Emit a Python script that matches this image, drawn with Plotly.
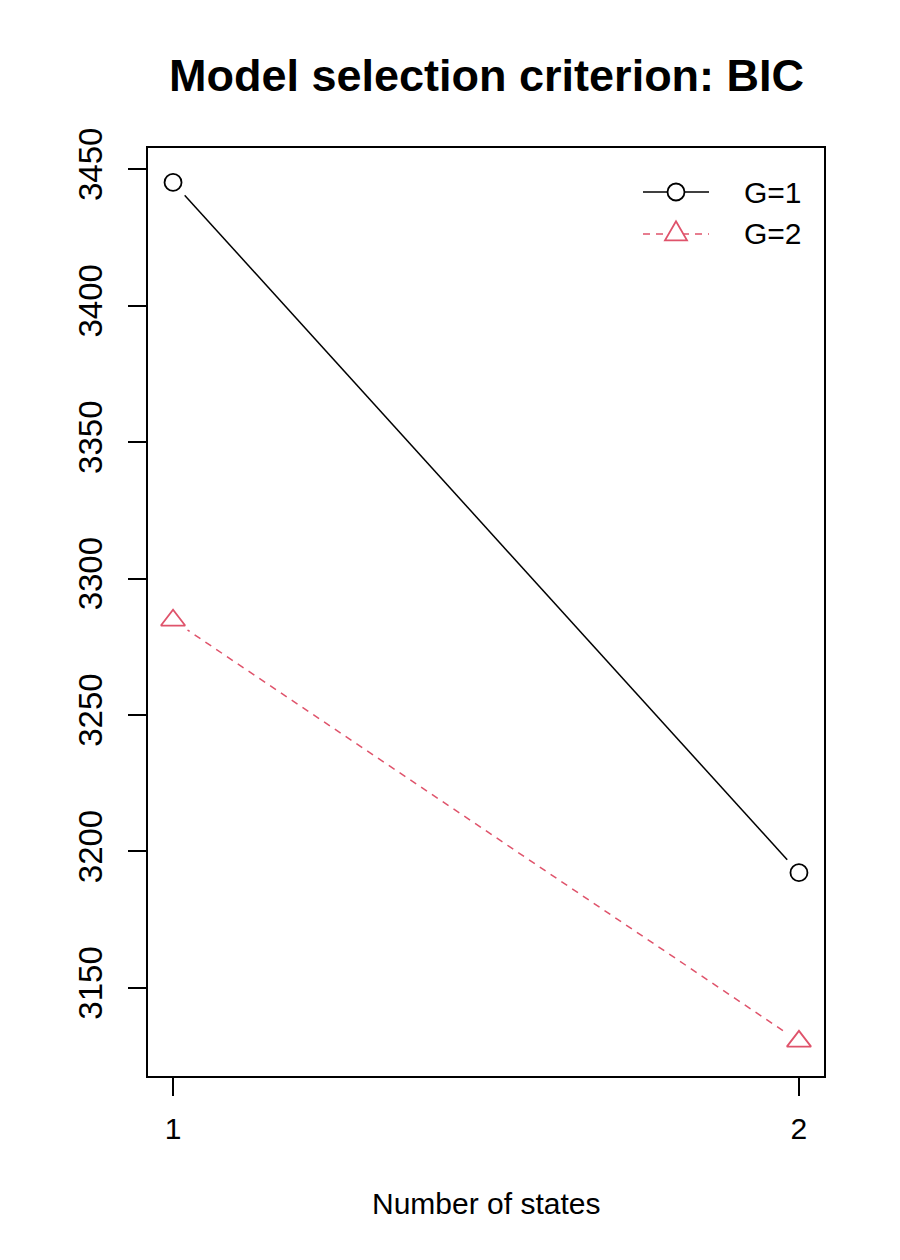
import plotly.graph_objects as go

# ---- data ----
states = [1, 2]
bic_g1 = [3445.2, 3192.2]
bic_g2 = [3284.7, 3130.4]
series_names = ["G=1", "G=2"]
y_ticks = [3150, 3200, 3250, 3300, 3350, 3400, 3450]
x_ticks = [1, 2]

BLACK = "#000000"
RED = "#DF536B"
FONT = "Liberation Sans, Arial, Helvetica, sans-serif"

# page has an 8px body margin: compensate so the plot lands where the reference has it
OFF = 8
W, H = 900 - OFF, 1260 - OFF
L, R, T, B = 148 - OFF, 76, 148 - OFF, 184
PW, PH = W - L - R, H - T - B


def px2paper(px, py):
    # px, py in page (reference) pixels
    return (px - OFF - L) / PW, (H - B - (py - OFF)) / PH


fig = go.Figure()

# series G=1
fig.add_trace(go.Scatter(x=states, y=bic_g1, mode="lines",
                         line=dict(color=BLACK, width=1.5),
                         showlegend=False, hoverinfo="skip"))
fig.add_trace(go.Scatter(x=states, y=bic_g1, mode="markers",
                         marker=dict(color="white", size=35, line=dict(width=0)),
                         showlegend=False, hoverinfo="skip"))
fig.add_trace(go.Scatter(x=states, y=bic_g1, mode="markers", name=series_names[0],
                         marker=dict(symbol="circle-open", size=17, color=BLACK,
                                     line=dict(width=1.8, color=BLACK)),
                         showlegend=False))
# series G=2
fig.add_trace(go.Scatter(x=states, y=bic_g2, mode="lines",
                         line=dict(color=RED, width=1.5, dash="7px,6px"),
                         showlegend=False, hoverinfo="skip"))
fig.add_trace(go.Scatter(x=states, y=bic_g2, mode="markers",
                         marker=dict(color="white", size=35, line=dict(width=0)),
                         showlegend=False, hoverinfo="skip"))
fig.add_trace(go.Scatter(x=states, y=bic_g2, mode="markers", name=series_names[1],
                         marker=dict(symbol="triangle-up-open", size=21, color=RED,
                                     line=dict(width=1.8, color=RED)),
                         showlegend=False))

# ---- manual legend (R style) ----
shapes = []
annotations = []
rows = [(192, BLACK, "solid", "circle"), (234, RED, "7px,6px", "triangle")]
for (py, col, dash, sym), name in zip(rows, series_names):
    x0, y0 = px2paper(643, py)
    x1, _ = px2paper(709, py)
    xc, _ = px2paper(676, py)
    xt, _ = px2paper(742, py)
    shapes.append(dict(type="line", xref="paper", yref="paper", x0=x0, x1=x1, y0=y0, y1=y0,
                       line=dict(color=col, width=1.5, dash=dash)))
    if sym == "circle":
        shapes.append(dict(type="circle", xref="paper", yref="paper",
                           xsizemode="pixel", ysizemode="pixel", xanchor=xc, yanchor=y0,
                           x0=-8.5, x1=8.5, y0=-8.5, y1=8.5,
                           fillcolor="white", line=dict(color=col, width=1.8)))
    else:
        shapes.append(dict(type="path", xref="paper", yref="paper",
                           xsizemode="pixel", ysizemode="pixel", xanchor=xc, yanchor=y0,
                           path="M -11,-6.35 L 11,-6.35 L 0,12.7 Z",
                           fillcolor="white", line=dict(color=col, width=1.8)))
    annotations.append(dict(text=name, xref="paper", yref="paper", x=xt, y=y0,
                            xanchor="left", yanchor="middle", showarrow=False,
                            font=dict(family=FONT, size=30, color=BLACK)))

# title & x-axis title
tx, ty = px2paper(486, 75)
annotations.append(dict(text="<b>Model selection criterion: BIC</b>", xref="paper", yref="paper",
                        x=tx, y=ty, xanchor="center", yanchor="middle", showarrow=False,
                        font=dict(family=FONT, size=45, color=BLACK)))
xx, xty = px2paper(486, 1203)
annotations.append(dict(text="Number of states", xref="paper", yref="paper",
                        x=xx, y=xty, xanchor="center", yanchor="middle", showarrow=False,
                        font=dict(family=FONT, size=30, color=BLACK)))

fig.update_layout(
    width=W, height=H, autosize=False,
    margin=dict(l=L, r=R, t=T, b=B, pad=0),
    paper_bgcolor="white", plot_bgcolor="white",
    shapes=shapes, annotations=annotations,
    showlegend=False,
    xaxis=dict(range=[0.96, 2.04], tickmode="array", tickvals=x_ticks,
               ticktext=[str(v) for v in x_ticks],
               showgrid=False, zeroline=False, showline=True, mirror=True,
               linecolor=BLACK, linewidth=2, ticks="outside", ticklen=18, tickwidth=2,
               tickcolor=BLACK, ticklabelstandoff=7,
               tickfont=dict(family=FONT, size=30, color=BLACK)),
    yaxis=dict(range=[3117.7, 3457.8], tickmode="array", tickvals=y_ticks,
               ticktext=[str(v) for v in y_ticks], tickangle=-90,
               showgrid=False, zeroline=False, showline=True, mirror=True,
               linecolor=BLACK, linewidth=2, ticks="outside", ticklen=18, tickwidth=2,
               tickcolor=BLACK, ticklabelstandoff=13,
               tickfont=dict(family=FONT, size=33, color=BLACK)),
)

fig.write_html("out.html")
